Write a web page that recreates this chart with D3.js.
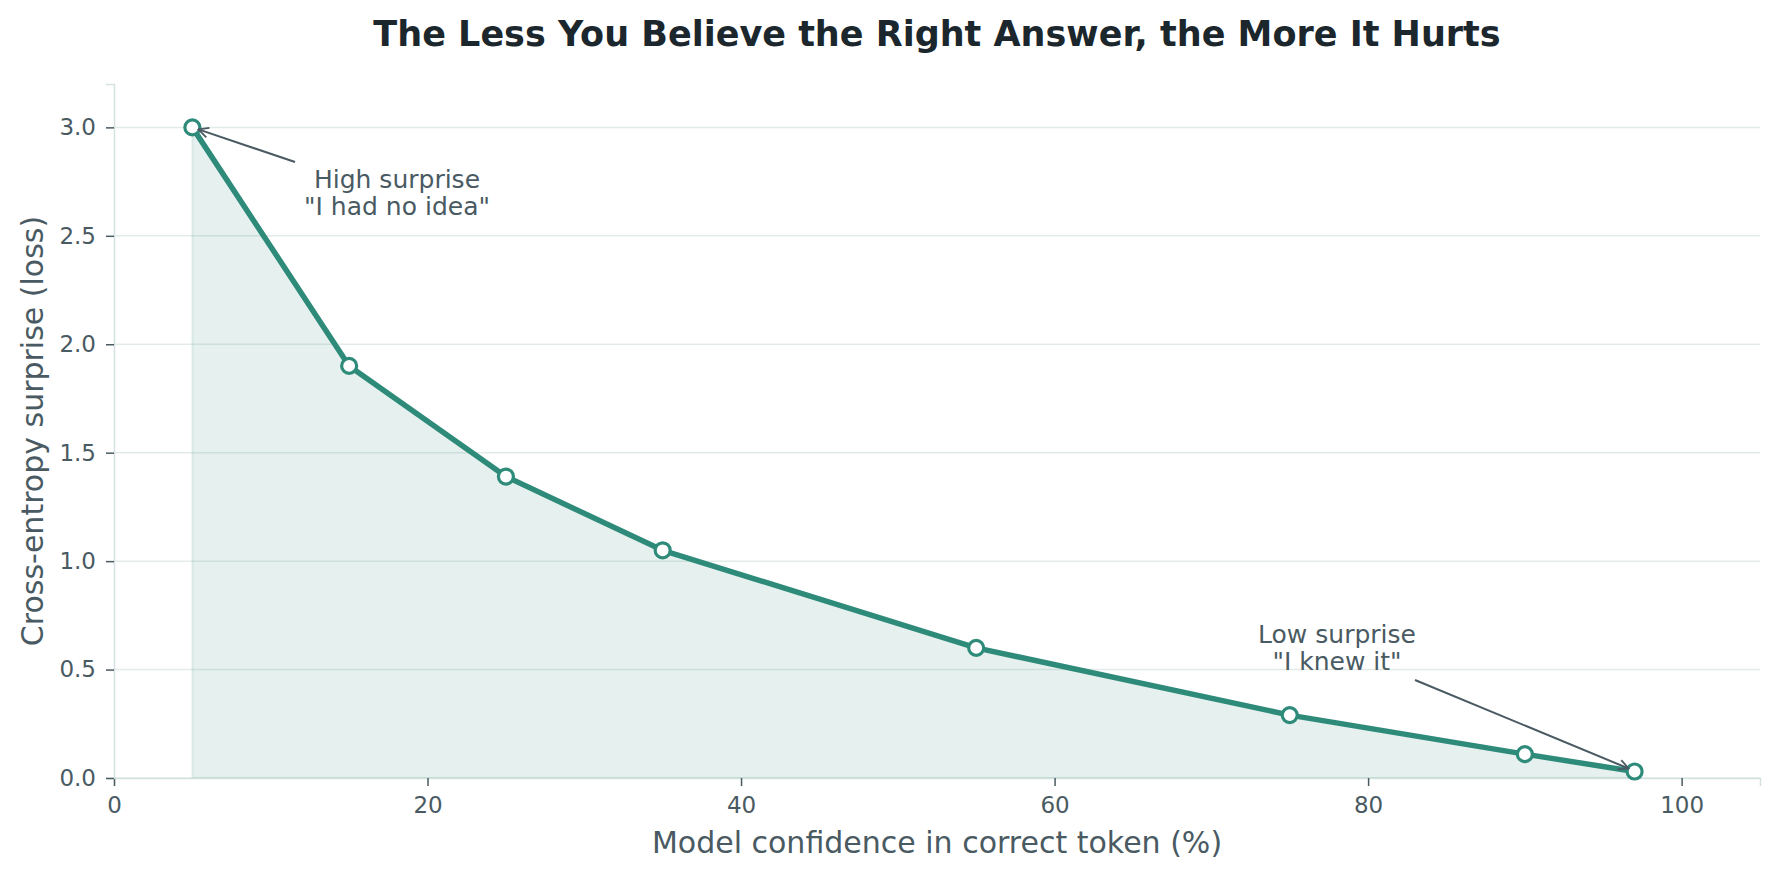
<!DOCTYPE html>
<html lang="en">
<head>
  <meta charset="UTF-8">
  <script src="https://cdn.jsdelivr.net/npm/d3@7"></script>
  <title>Cross-entropy surprise</title>
  <style>
    body { margin: 0; background: #fff; }
    text { font-family: "DejaVu Sans", sans-serif; }
  </style>
</head>
<body>
  <svg width="1778" height="877"></svg>
  <script>
    // data
    var confidence = [5, 15, 25, 35, 55, 75, 90, 97];
    var loss = [3.00, 1.90, 1.39, 1.05, 0.60, 0.29, 0.11, 0.03];
    var xTicks = [0, 20, 40, 60, 80, 100];
    var yTicks = [0.0, 0.5, 1.0, 1.5, 2.0, 2.5, 3.0];

    var teal = "#2e8b7a";
    var textCol = "#4a5a62";

    var svg = d3.select("svg");
    var marge = { top: 84, left: 114, right: 18, bottom: 99 };
    var width = +svg.attr("width") - marge.left - marge.right;
    var height = +svg.attr("height") - marge.top - marge.bottom;
    var g = svg.append("g").attr("transform", `translate(${marge.left},${marge.top})`);

    var x = d3.scaleLinear().domain([0, 105]).range([0, width]);
    var y = d3.scaleLinear().domain([0, 3.2]).range([height, 0]);

    var pts = confidence.map((c, i) => [c, loss[i]]);

    // grid
    g.append("g").selectAll("line").data(yTicks).enter().append("line")
      .attr("x1", 0).attr("x2", width)
      .attr("y1", d => y(d)).attr("y2", d => y(d))
      .attr("stroke", "#e3ebe9").attr("stroke-width", 1.5);

    // filled area
    var area = d3.area().x(d => x(d[0])).y0(y(0)).y1(d => y(d[1]));
    g.append("path").datum(pts)
      .attr("d", area)
      .attr("fill", teal).attr("fill-opacity", 0.12)
      .attr("stroke", teal).attr("stroke-opacity", 0.12).attr("stroke-width", 2);

    // axes
    var xAxis = g.append("g").attr("transform", `translate(0,${height})`)
      .call(d3.axisBottom(x).tickValues(xTicks).tickSize(8).tickPadding(11).tickFormat(d3.format("d")));
    var yAxis = g.append("g")
      .call(d3.axisLeft(y).tickValues(yTicks).tickSize(8).tickPadding(10).tickFormat(d3.format(".1f")));
    [xAxis, yAxis].forEach(a => {
      a.select(".domain").attr("stroke", "#d3e2df").attr("stroke-width", 1.5);
      a.selectAll(".tick line").attr("stroke", textCol).attr("stroke-width", 1.5);
      a.selectAll(".tick text").attr("fill", textCol).style("font-size", "23px")
        .style("font-family", "DejaVu Sans");
    });

    // line + markers
    var line = d3.line().x(d => x(d[0])).y(d => y(d[1]));
    g.append("path").datum(pts)
      .attr("d", line).attr("fill", "none")
      .attr("stroke", teal).attr("stroke-width", 5.5).attr("stroke-linejoin", "round");
    g.selectAll(".pt").data(pts).enter().append("circle")
      .attr("cx", d => x(d[0])).attr("cy", d => y(d[1])).attr("r", 7.5)
      .attr("fill", "#fff").attr("stroke", teal).attr("stroke-width", 3.2);

    // annotations
    svg.append("defs").append("marker")
      .attr("id", "arr").attr("viewBox", "0 0 12 12").attr("refX", 11).attr("refY", 6)
      .attr("markerWidth", 12).attr("markerHeight", 12).attr("markerUnits", "userSpaceOnUse")
      .attr("orient", "auto")
      .append("path").attr("d", "M1,1 L11,6 L1,11").attr("fill", "none")
      .attr("stroke", textCol).attr("stroke-width", 1.8);

    var notes = [
      { lines: ["High surprise", "\"I had no idea\""], tx: 283, ty: 104, from: [181, 78], pt: 0 },
      { lines: ["Low surprise", "\"I knew it\""], tx: 1223, ty: 559, from: [1301, 596], pt: 7 }
    ];
    notes.forEach(n => {
      var p = pts[n.pt];
      g.append("line")
        .attr("x1", n.from[0]).attr("y1", n.from[1])
        .attr("x2", x(p[0]) + (n.pt === 0 ? 6 : -6)).attr("y2", y(p[1]) + (n.pt === 0 ? 2 : -3))
        .attr("stroke", textCol).attr("stroke-width", 2).attr("marker-end", "url(#arr)");
      var t = g.append("text").attr("x", n.tx).attr("y", n.ty)
        .attr("text-anchor", "middle").attr("fill", textCol).style("font-size", "25px");
      n.lines.forEach((s, i) => t.append("tspan").attr("x", n.tx).attr("dy", i ? 27 : 0).text(s));
    });

    // titles
    svg.append("text").attr("x", marge.left + width / 2).attr("y", 46)
      .attr("text-anchor", "middle").attr("fill", "#1b272c")
      .style("font-size", "35px").style("font-weight", "bold")
      .text("The Less You Believe the Right Answer, the More It Hurts");
    svg.append("text").attr("x", marge.left + width / 2).attr("y", 853)
      .attr("text-anchor", "middle").attr("fill", textCol).style("font-size", "30px")
      .text("Model confidence in correct token (%)");
    svg.append("text").attr("transform", `translate(43,${marge.top + height / 2}) rotate(-90)`)
      .attr("text-anchor", "middle").attr("fill", textCol).style("font-size", "30px")
      .text("Cross-entropy surprise (loss)");
  </script>
</body>
</html>
